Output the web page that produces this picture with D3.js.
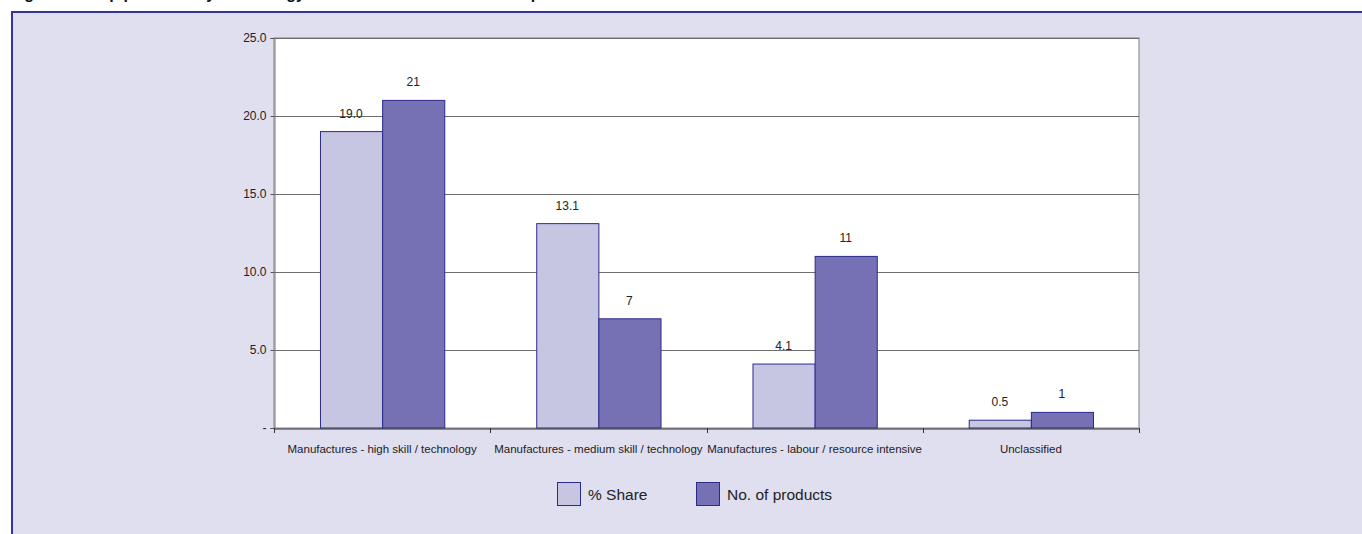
<!DOCTYPE html>
<html>
<head>
<meta charset="utf-8">
<script src="https://cdn.jsdelivr.net/npm/d3@7"></script>
<style>
  body { margin: 0; background: #fff; }
  svg { display: block; font-family: Arial, "Liberation Sans", sans-serif; }
</style>
</head>
<body>
<div id="chart"></div>
<script>
// data
const categories = [
  'Manufactures - high skill / technology',
  'Manufactures - medium skill / technology',
  'Manufactures - labour / resource intensive',
  'Unclassified'
]
const shareValues = [19.0, 13.1, 4.1, 0.5]
const productCounts = [21, 7, 11, 1]
const seriesNames = ['% Share', 'No. of products']
const yTicks = [0, 5, 10, 15, 20, 25]

const width = 1362
const height = 534
const colors = ['#c7c6e2', '#7571b4']
const edge = '#2b2b8c'

const svg = d3.select('#chart').append('svg')
  .attr('width', width)
  .attr('height', height)

// title, cut off at the top of the picture (only descenders show)
svg.append('text')
  .attr('x', 10).attr('y', -1)
  .attr('font-weight', 'bold').attr('font-size', 16)
  .attr('fill', '#111')
  .text('Figure 12: Top products by technology classification and number of products')

// panel
svg.append('rect')
  .attr('x', 12).attr('y', 12)
  .attr('width', width).attr('height', height)
  .attr('fill', '#dfdff0')
  .attr('stroke', '#34349a').attr('stroke-width', 2)

const plot = {left: 274, right: 1139, top: 38, bottom: 428}

const x = d3.scaleBand()
  .domain(categories)
  .range([plot.left, plot.right])

const x1 = d3.scaleBand()
  .domain(seriesNames)
  .range([0, x.bandwidth()])
  .paddingInner(0)
  .paddingOuter(0.74)

const y = d3.scaleLinear()
  .domain([0, 25])
  .range([plot.bottom, plot.top])

// plot background
svg.append('rect')
  .attr('x', plot.left).attr('y', plot.top)
  .attr('width', plot.right - plot.left).attr('height', plot.bottom - plot.top)
  .attr('fill', '#fff')
  .attr('stroke', '#808080').attr('stroke-width', 1)

// gridlines
svg.append('g')
  .selectAll('line')
  .data(yTicks.filter(d => d > 0))
  .join('line')
  .attr('x1', plot.left).attr('x2', plot.right)
  .attr('y1', d => Math.round(y(d)) + 0.5).attr('y2', d => Math.round(y(d)) + 0.5)
  .attr('stroke', '#6e6e6e')

// y axis
const yAxis = svg.append('g')
  .attr('transform', `translate(${plot.left + 0.5},0)`)
  .call(d3.axisLeft(y).tickValues(yTicks).tickSize(4).tickPadding(4)
    .tickFormat(d => d === 0 ? '-' : d3.format('.1f')(d)))
yAxis.select('.domain').attr('stroke', '#777')
yAxis.selectAll('.tick line').attr('stroke', '#555')
yAxis.selectAll('text').attr('font-size', 12).attr('fill', '#222').attr('font-family', 'Arial, sans-serif')

// bars
const rows = categories.map((c, i) => ({
  cat: c,
  vals: [
    {name: seriesNames[0], v: shareValues[i], label: d3.format('.1f')(shareValues[i])},
    {name: seriesNames[1], v: productCounts[i], label: String(productCounts[i])}
  ]
}))

const groups = svg.append('g')
  .selectAll('g')
  .data(rows)
  .join('g')
  .attr('transform', d => `translate(${x(d.cat)},0)`)

groups.selectAll('rect')
  .data(d => d.vals)
  .join('rect')
  .attr('x', d => x1(d.name) + 0.5)
  .attr('y', d => y(d.v))
  .attr('width', x1.bandwidth())
  .attr('height', d => y(0) - y(d.v))
  .attr('fill', (d, i) => colors[i])
  .attr('stroke', edge)
  .attr('stroke-width', 1)

groups.selectAll('text')
  .data(d => d.vals)
  .join('text')
  .attr('x', d => x1(d.name) + x1.bandwidth() / 2)
  .attr('y', d => y(d.v) - 14)
  .attr('text-anchor', 'middle')
  .attr('font-size', 12)
  .attr('fill', '#222')
  .text(d => d.label)

// x axis
const xAxis = svg.append('g')
  .attr('transform', `translate(0,${plot.bottom + 0.5})`)
  .call(d3.axisBottom(x).tickSize(0).tickPadding(16))
xAxis.select('.domain').attr('stroke', '#333')
xAxis.selectAll('text').attr('font-size', 11.5).attr('fill', '#222').attr('font-family', 'Arial, sans-serif')

// category separators
svg.append('g')
  .selectAll('line')
  .data(d3.range(categories.length + 1))
  .join('line')
  .attr('x1', i => Math.round(plot.left + i * x.step()) + 0.5)
  .attr('x2', i => Math.round(plot.left + i * x.step()) + 0.5)
  .attr('y1', plot.bottom).attr('y2', plot.bottom + 5)
  .attr('stroke', '#333')

// legend
const legend = svg.append('g')
  .selectAll('g')
  .data(seriesNames)
  .join('g')
  .attr('transform', (d, i) => `translate(${557 + i * 139},482)`)

legend.append('rect')
  .attr('x', 0.5).attr('y', 0.5)
  .attr('width', 23).attr('height', 23)
  .attr('fill', (d, i) => colors[i])
  .attr('stroke', edge)

legend.append('text')
  .attr('x', 31).attr('y', 17.5)
  .attr('font-size', 15.5)
  .attr('fill', '#222')
  .text(d => d)
</script>
</body>
</html>
